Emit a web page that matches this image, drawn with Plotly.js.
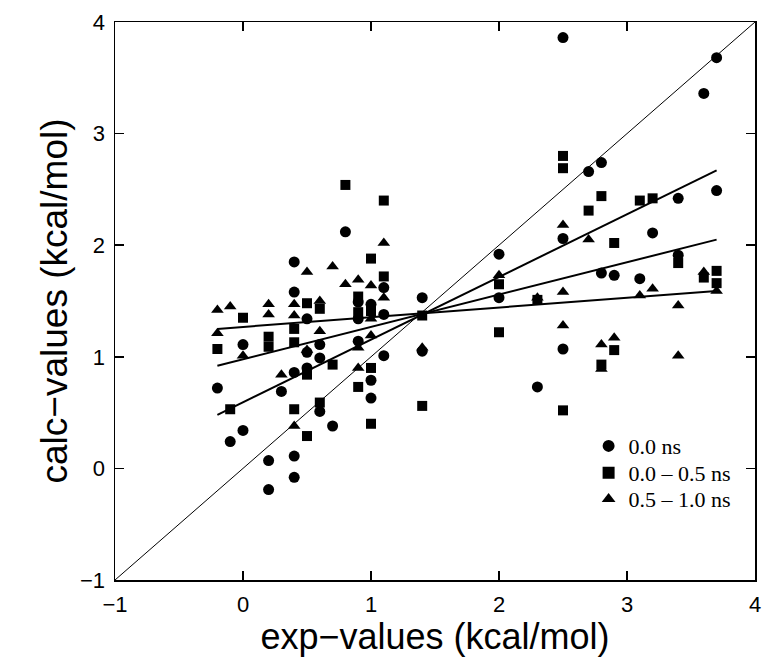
<!DOCTYPE html>
<html>
<head>
<meta charset="utf-8">
<script src="https://cdn.plot.ly/plotly-3.0.1.min.js"></script>
<style>html,body{margin:0;padding:0;background:#fff;}#chart{width:765px;height:657px;}</style>
</head>
<body>
<div id="chart"></div>
<script>
// 0.0 ns (circles)
const circX = [-0.2,-0.1,0,0,0.2,0.2,0.3,0.4,0.4,0.4,0.4,0.4,0.5,0.5,0.5,0.6,0.6,0.6,0.7,0.8,0.9,0.9,0.9,1.0,1.0,1.0,1.1,1.1,1.1,1.4,1.4,2.0,2.0,2.3,2.5,2.5,2.5,2.7,2.8,2.8,2.9,3.1,3.2,3.4,3.4,3.6,3.7,3.7];
const circY = [0.72,0.24,1.11,0.34,0.07,-0.19,0.69,1.85,1.58,0.86,0.11,-0.08,1.34,1.04,0.90,1.11,0.99,0.51,0.38,2.12,1.49,1.34,1.14,1.47,0.79,0.63,1.62,1.38,1.01,1.53,1.05,1.92,1.53,0.73,3.86,2.06,1.07,2.66,2.74,1.75,1.73,1.70,2.11,2.42,1.91,3.36,3.68,2.49];
// 0.0 - 0.5 ns (squares)
const sqX = [-0.2,-0.1,0,0.2,0.2,0.4,0.4,0.4,0.5,0.5,0.5,0.6,0.6,0.7,0.8,0.9,0.9,0.9,1.0,1.0,1.0,1.0,1.1,1.1,1.4,1.4,2.0,2.0,2.3,2.5,2.5,2.5,2.7,2.8,2.8,2.9,2.9,3.1,3.2,3.4,3.6,3.7,3.7];
const sqY = [1.07,0.53,1.35,1.18,1.09,1.25,1.13,0.53,1.48,0.84,0.29,1.43,0.59,0.93,2.54,1.54,1.40,0.73,1.88,1.41,0.90,0.40,2.40,1.72,1.37,0.56,1.65,1.22,1.51,2.80,2.69,0.52,2.31,2.44,0.93,2.02,1.06,2.40,2.42,1.84,1.71,1.77,1.66];
// 0.5 - 1.0 ns (triangles)
const triX = [-0.2,-0.2,-0.1,0,0.2,0.2,0.3,0.4,0.4,0.4,0.5,0.5,0.6,0.6,0.7,0.8,0.9,0.9,0.9,1.0,1.0,1.0,1.1,1.1,1.4,2.0,2.3,2.5,2.5,2.5,2.7,2.8,2.8,2.9,3.1,3.2,3.4,3.4,3.6,3.7];
const triY = [1.42,1.21,1.45,1.01,1.47,1.38,0.84,1.47,1.37,0.38,1.76,1.06,1.50,1.23,1.81,1.65,1.69,1.08,0.90,1.64,1.34,1.19,2.02,1.53,1.08,1.73,1.53,2.18,1.58,1.28,2.05,1.11,0.89,1.17,1.55,1.61,1.46,1.01,1.76,1.59];
// fitted lines (endpoints)
const fitX = [-0.2, 3.7];
const fitCirc = [0.48, 2.67];
const fitSq = [0.92, 2.05];
const fitTri = [1.25, 1.59];
// identity line
const diagX = [-1, 4];
const diagY = [-1, 4];
const legendNames = ['0.0 ns', '0.0 \u2013 0.5 ns', '0.5 \u2013 1.0 ns'];
const tickVals = [-1, 0, 1, 2, 3, 4];

const black = '#000';
const traces = [
  {x: diagX, y: diagY, mode: 'lines', line: {color: black, width: 1}, showlegend: false, hoverinfo: 'skip'},
  {x: fitX, y: fitCirc, mode: 'lines', line: {color: black, width: 2}, showlegend: false},
  {x: fitX, y: fitSq, mode: 'lines', line: {color: black, width: 2}, showlegend: false},
  {x: fitX, y: fitTri, mode: 'lines', line: {color: black, width: 2}, showlegend: false},
  {x: circX, y: circY, mode: 'markers', name: legendNames[0], legend: 'legend',
   marker: {symbol: 'circle', size: 11, color: black}},
  {x: sqX, y: sqY, mode: 'markers', name: legendNames[1], legend: 'legend2',
   marker: {symbol: 'square', size: 10, color: black}},
  {x: triX, y: triY, mode: 'markers', name: legendNames[2], legend: 'legend3',
   marker: {symbol: 'triangle-up', size: 11, color: black}}
];

const axisCommon = {
  showgrid: false, zeroline: false, showline: true, linecolor: black, linewidth: 1.5,
  mirror: 'ticks', ticks: 'inside', ticklen: 9, tickwidth: 1.5, tickcolor: black,
  tickvals: tickVals,
  tickfont: {family: 'Liberation Sans, Arial, sans-serif', size: 22, color: black}
};

function mkLegend(y) {
  return {
    x: 0.74, y: y, xanchor: 'left', yanchor: 'middle',
    bgcolor: 'rgba(0,0,0,0)', borderwidth: 0,
    font: {family: 'Liberation Serif, Times New Roman, serif', size: 22, color: black},
    itemwidth: 30, itemsizing: 'constant'
  };
}

const layout = {
  width: 765, height: 657,
  margin: {l: 115, r: 10, t: 22, b: 77},
  paper_bgcolor: '#fff', plot_bgcolor: '#fff',
  xaxis: Object.assign({}, axisCommon, {
    range: [-1, 4], ticklabelstandoff: 4,
    title: {text: 'exp\u2212values (kcal/mol)', font: {family: 'Liberation Sans, Arial, sans-serif', size: 36, color: black}, standoff: 8}
  }),
  yaxis: Object.assign({}, axisCommon, {
    range: [-1, 4], ticklabelstandoff: 4,
    title: {text: 'calc\u2212values (kcal/mol)', font: {family: 'Liberation Sans, Arial, sans-serif', size: 37, color: black}, standoff: 1}
  }),
  legend: mkLegend(0.240),
  legend2: mkLegend(0.192),
  legend3: mkLegend(0.145),
  showlegend: true
};

Plotly.newPlot('chart', traces, layout, {staticPlot: true, displayModeBar: false});
</script>
</body>
</html>
